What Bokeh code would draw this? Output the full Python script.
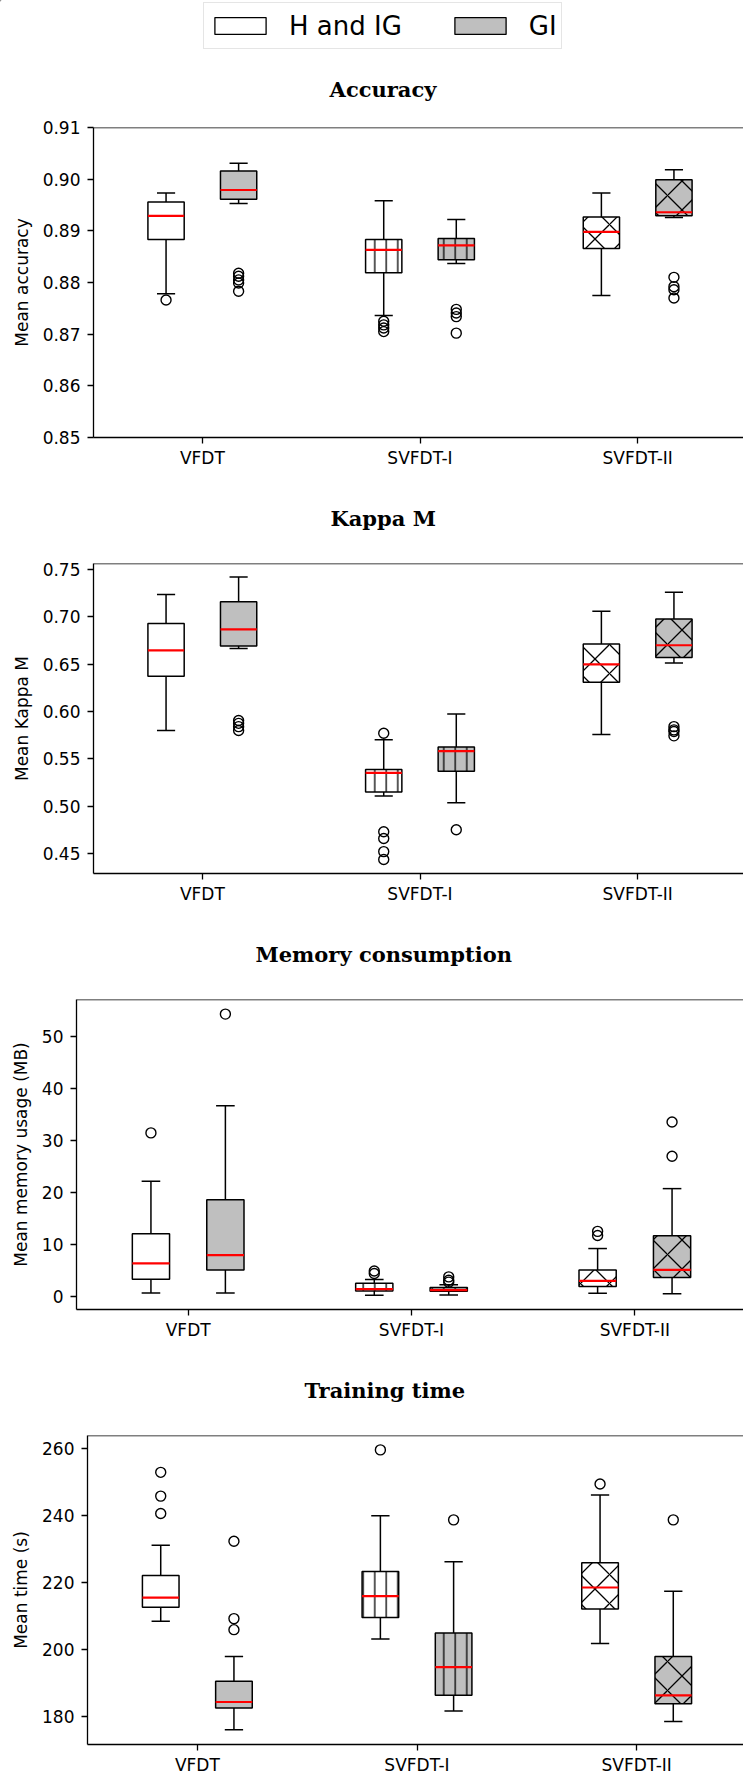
from bokeh.plotting import figure
from bokeh.models import (ColumnDataSource, FixedTicker, PrintfTickFormatter, Range1d,
                          Span, Legend, LegendItem, Label)
from bokeh.embed import file_html
from bokeh.resources import INLINE

# ---------------- data ----------------
categories = ["VFDT", "SVFDT-I", "SVFDT-II"]
groups = ["H and IG", "GI"]
hatch_patterns = [" ", "|", "x"]

# Accuracy
acc_h_lo = [0.8778, 0.8736, 0.8775]
acc_h_q1 = [0.8883, 0.8819, 0.8866]
acc_h_med = [0.8929, 0.8863, 0.8898]
acc_h_q3 = [0.8956, 0.8883, 0.8927]
acc_h_hi = [0.8973, 0.8958, 0.8973]
acc_h_out = [[0.8766], [0.8725, 0.8718, 0.8712, 0.8705], []]
acc_g_lo = [0.8953, 0.8837, 0.8926]
acc_g_q1 = [0.8961, 0.8844, 0.8929]
acc_g_med = [0.8979, 0.8872, 0.8936]
acc_g_q3 = [0.9016, 0.8885, 0.8999]
acc_g_hi = [0.9031, 0.8922, 0.9018]
acc_g_out = [[0.8818, 0.8812, 0.8805, 0.8799, 0.8783],
             [0.8748, 0.8741, 0.8734, 0.8702],
             [0.8810, 0.8792, 0.8786, 0.8770]]
acc_ticks = [0.85, 0.86, 0.87, 0.88, 0.89, 0.90, 0.91]

# Kappa M
kap_h_lo = [0.5800, 0.5108, 0.5758]
kap_h_q1 = [0.6372, 0.5150, 0.6309]
kap_h_med = [0.6645, 0.5353, 0.6498]
kap_h_q3 = [0.6931, 0.5388, 0.6714]
kap_h_hi = [0.7235, 0.5702, 0.7060]
kap_h_out = [[], [0.5772, 0.4731, 0.4661, 0.4522, 0.4438], []]
kap_g_lo = [0.6665, 0.5038, 0.6512]
kap_g_q1 = [0.6693, 0.5370, 0.6571]
kap_g_med = [0.6868, 0.5583, 0.6700]
kap_g_q3 = [0.7158, 0.5625, 0.6976]
kap_g_hi = [0.7420, 0.5974, 0.7259]
kap_g_out = [[0.5906, 0.5876, 0.5841, 0.5800], [0.4752],
             [0.5841, 0.5807, 0.5789, 0.5744]]
kap_ticks = [0.45, 0.50, 0.55, 0.60, 0.65, 0.70, 0.75]

# Memory consumption (MB)
mem_h_lo = [0.76, 0.32, 0.70]
mem_h_q1 = [3.42, 1.14, 2.03]
mem_h_med = [6.46, 1.52, 3.10]
mem_h_q3 = [12.15, 2.66, 5.19]
mem_h_hi = [22.2, 3.35, 9.3]
mem_h_out = [[31.5], [5.0, 4.5], [12.6, 11.8]]
mem_g_lo = [0.76, 0.38, 0.63]
mem_g_q1 = [5.19, 1.08, 3.73]
mem_g_med = [8.04, 1.33, 5.19]
mem_g_q3 = [18.67, 1.84, 11.77]
mem_g_hi = [36.7, 2.34, 20.8]
mem_g_out = [[54.3], [3.86, 3.2, 2.85], [33.6, 27.0]]
mem_ticks = [0, 10, 20, 30, 40, 50]

# Training time (s)
tim_h_lo = [208.3, 203.0, 201.7]
tim_h_q1 = [212.5, 209.4, 212.0]
tim_h_med = [215.4, 215.8, 218.4]
tim_h_q3 = [222.0, 223.2, 225.8]
tim_h_hi = [231.0, 239.8, 246.0]
tim_h_out = [[252.8, 245.7, 240.5], [259.5], [249.3]]
tim_g_lo = [175.9, 181.5, 178.4]
tim_g_q1 = [182.4, 186.2, 183.7]
tim_g_med = [184.2, 194.6, 186.2]
tim_g_q3 = [190.4, 204.8, 197.8]
tim_g_hi = [197.8, 226.1, 217.3]
tim_g_out = [[232.2, 209.1, 205.8], [238.6], [238.6]]
tim_ticks = [180, 200, 220, 240, 260]

# ---------------- style ----------------
FONT = "DejaVu Sans"
TFONT = "DejaVu Serif"
FILL_H = "white"
FILL_G = "#bfbfbf"
W = 743
FRAME_H = 312
SPINE_RIGHT = 746
BOX_W = 0.5
CAP_W = 0.25
LW = 1.5
HEAD_H = 108


def make_panel(title, title_left, ylabel, yticks, fmt, yr, h_stats, h_out, g_stats, g_out,
               left, top, bottom):
    unit = (SPINE_RIGHT - left) / 9.0
    x_end = (W - left) / unit
    p = figure(width=W, height=top + FRAME_H + bottom,
               x_range=Range1d(0, x_end), y_range=Range1d(*yr),
               output_backend="svg", toolbar_location=None,
               min_border_left=left, min_border_right=0,
               min_border_top=top, min_border_bottom=bottom)
    p.outline_line_color = None
    p.xgrid.visible = False
    p.ygrid.visible = False
    p.background_fill_color = "white"
    p.border_fill_color = "white"

    if title:
        p.title.text = title
        p.title.align = "left"
        p.title.offset = title_left - left
        p.title.standoff = 66
        p.title.text_font = TFONT
        p.title.text_font_style = "bold"
        p.title.text_font_size = "21px"
        p.title.text_color = "black"

    for ax in (p.xaxis[0], p.yaxis[0]):
        ax.axis_line_color = "black"
        ax.axis_line_width = 1.3
        ax.major_tick_line_color = "black"
        ax.major_tick_line_width = 1.3
        ax.major_tick_in = 0
        ax.major_tick_out = 6
        ax.minor_tick_line_color = None
        ax.major_label_text_font = FONT
        ax.major_label_text_font_size = "17px"
        ax.major_label_text_color = "black"
    p.xaxis.ticker = FixedTicker(ticks=[1.5 + 3 * i for i in range(len(categories))])
    p.xaxis.major_label_overrides = {1.5 + 3 * i: c for i, c in enumerate(categories)}
    p.xaxis.major_label_standoff = 4
    p.yaxis.ticker = FixedTicker(ticks=yticks)
    p.yaxis.formatter = PrintfTickFormatter(format=fmt)
    p.yaxis.major_label_standoff = 7
    p.yaxis.axis_label = ylabel
    p.yaxis.axis_label_text_font = FONT
    p.yaxis.axis_label_text_font_size = "17px"
    p.yaxis.axis_label_text_font_style = "normal"
    p.yaxis.axis_label_text_color = "black"
    p.yaxis.axis_label_standoff = 8

    # top spine (right spine is outside the window in the reference)
    p.add_layout(Span(location=yr[1], dimension="width", line_color="black", line_width=1.3))

    for g, (stats, outs, fill) in enumerate(((h_stats, h_out, FILL_H), (g_stats, g_out, FILL_G))):
        lo, q1, med, q3, hi = stats
        xs = [3 * i + 1.5 + (g - 0.5) for i in range(len(categories))]
        src = ColumnDataSource(dict(
            x=xs, lo=lo, q1=q1, med=med, q3=q3, hi=hi,
            bl=[x - BOX_W / 2 for x in xs], br=[x + BOX_W / 2 for x in xs],
            cl=[x - CAP_W / 2 for x in xs], cr=[x + CAP_W / 2 for x in xs],
            hp=hatch_patterns, hs=[1, 11.5, 29],
        ))
        p.segment(x0="x", y0="q3", x1="x", y1="hi", source=src, line_color="black", line_width=LW)
        p.segment(x0="x", y0="q1", x1="x", y1="lo", source=src, line_color="black", line_width=LW)
        p.segment(x0="cl", y0="hi", x1="cr", y1="hi", source=src, line_color="black", line_width=LW)
        p.segment(x0="cl", y0="lo", x1="cr", y1="lo", source=src, line_color="black", line_width=LW)
        p.vbar(x="x", bottom="q1", top="q3", width=BOX_W, source=src,
               fill_color=fill, line_color="black", line_width=LW,
               hatch_pattern="hp", hatch_scale="hs", hatch_color="black", hatch_weight=1.3)
        p.segment(x0="bl", y0="med", x1="br", y1="med", source=src, line_color="red", line_width=2.2)
        ox, oy = [], []
        for x, vals in zip(xs, outs):
            for v in vals:
                ox.append(x)
                oy.append(v)
        p.scatter(ox, oy, marker="circle", size=10, fill_color=None,
                  line_color="black", line_width=1.4)
    return p


# ---------------- header: legend + first title ----------------
head = figure(width=W, height=HEAD_H, x_range=Range1d(0, W), y_range=Range1d(HEAD_H, 0),
              x_axis_location=None, y_axis_location=None, min_border=0,
              output_backend="svg", toolbar_location=None)
head.outline_line_color = None
head.grid.visible = False
head.background_fill_color = "white"
head.border_fill_color = "white"
# proxy renderers for the legend only (their single box lies off the canvas)
r_h = head.vbar(x=[-500], bottom=[-500], top=[-400], width=1,
                fill_color=FILL_H, line_color="black", line_width=1.3)
r_g = head.vbar(x=[-500], bottom=[-500], top=[-400], width=1,
                fill_color=FILL_G, line_color="black", line_width=1.3)
legend = Legend(items=[LegendItem(label=groups[0], renderers=[r_h]),
                       LegendItem(label=groups[1], renderers=[r_g])],
                orientation="horizontal", location=(203, HEAD_H - 49),
                glyph_width=64, glyph_height=21, label_standoff=17, spacing=46,
                padding=4, margin=0, label_height=37,
                label_text_font=FONT, label_text_font_size="26px",
                label_text_color="black",
                border_line_color="#cccccc", border_line_width=1.3,
                background_fill_color="white", background_fill_alpha=1.0)
head.add_layout(legend, "center")
head.add_layout(Label(x=382.5, y=89, text="Accuracy", text_align="center",
                      text_baseline="alphabetic", text_font=TFONT, text_font_style="bold",
                      text_font_size="21px", text_color="black"))

p1 = make_panel(None, 328, "Mean accuracy", acc_ticks, "%.2f", (0.85, 0.91),
                (acc_h_lo, acc_h_q1, acc_h_med, acc_h_q3, acc_h_hi), acc_h_out,
                (acc_g_lo, acc_g_q1, acc_g_med, acc_g_q3, acc_g_hi), acc_g_out,
                left=93, top=127 - HEAD_H, bottom=31)
p2 = make_panel("Kappa M", 330, "Mean Kappa M", kap_ticks, "%.2f", (0.4291, 0.7563),
                (kap_h_lo, kap_h_q1, kap_h_med, kap_h_q3, kap_h_hi), kap_h_out,
                (kap_g_lo, kap_g_q1, kap_g_med, kap_g_q3, kap_g_hi), kap_g_out,
                left=93, top=93, bottom=31)
p3 = make_panel("Memory consumption", 255, "Mean memory usage (MB)", mem_ticks, "%d", (-2.4, 57.1),
                (mem_h_lo, mem_h_q1, mem_h_med, mem_h_q3, mem_h_hi), mem_h_out,
                (mem_g_lo, mem_g_q1, mem_g_med, mem_g_q3, mem_g_hi), mem_g_out,
                left=76, top=93, bottom=31)
p4 = make_panel("Training time", 304, "Mean time (s)", tim_ticks, "%d", (171.5, 263.8),
                (tim_h_lo, tim_h_q1, tim_h_med, tim_h_q3, tim_h_hi), tim_h_out,
                (tim_g_lo, tim_g_q1, tim_g_med, tim_g_q3, tim_g_hi), tim_g_out,
                left=87, top=93, bottom=30)

# separate roots, stacked top to bottom, so each panel keeps its own left border
open("out.html", "w").write(file_html([head, p1, p2, p3, p4], INLINE))
